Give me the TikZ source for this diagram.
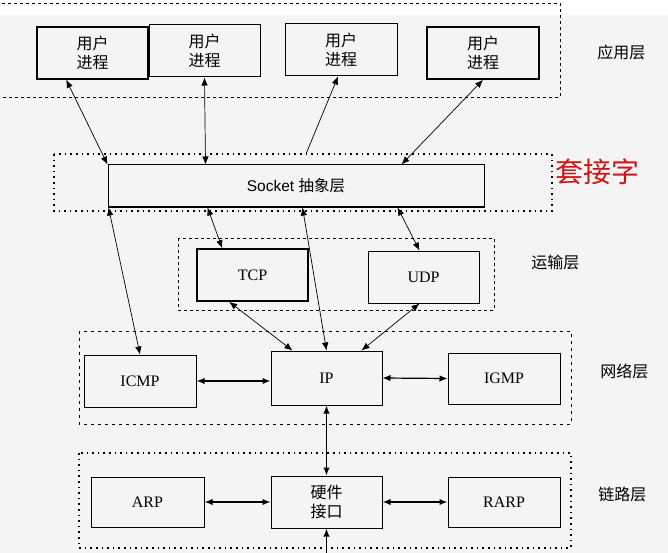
\documentclass[tikz,border=0pt]{standalone}
\usepackage{fontspec}
\setmainfont{Liberation Serif}
\setsansfont{Liberation Sans}
\newfontfamily\song{Noto Sans CJK SC}
\usetikzlibrary{arrows.meta}
\definecolor{paper}{HTML}{F4F4F4}
\definecolor{tagred}{HTML}{CC1414}

\begin{document}
\begin{tikzpicture}[x=1pt,y=-1pt,
  box/.style={draw, line width=1pt, minimum width=111pt, minimum height=52pt,
    inner sep=0pt, align=center, font=\fontsize{16}{19}\selectfont},
  cjkbox/.style={box, font=\song\fontsize{16}{19}\selectfont},
  layer/.style={draw, line width=0.8pt, dash pattern=on 3pt off 3pt},
  dotlayer/.style={draw, line width=1.6pt, dash pattern=on 1.6pt off 4pt},
  tag/.style={anchor=west, inner sep=0pt, font=\song\fontsize{16}{19}\selectfont},
  <->,>={Latex[length=8pt,width=6.5pt]},line width=0.7pt
]
\useasboundingbox (0,0) rectangle (668,553);
\clip (0,0) rectangle (668,553);
\fill[white] (0,0) rectangle (668,553);
\fill[paper] (0,15) rectangle (668,553);

\draw[layer,-] (-5,3) rectangle (560,97);
\draw[dotlayer,-] (54,154) rectangle (552,211);
\draw[layer,-] (178,238) rectangle (494,310);
\draw[layer,-,line width=1pt,dash pattern=on 3pt off 4pt] (79,331) rectangle (571,424);
\draw[dotlayer,-] (79,453) rectangle (571,548);

\node[cjkbox, line width=1.6pt] (u1) at (92.5,53) {用户\\进程};
\node[cjkbox] (u2) at (204.5,51) {用户\\进程};
\node[cjkbox, minimum width=112pt] (u3) at (341,50) {用户\\进程};
\node[cjkbox, line width=1.6pt, minimum width=112pt] (u4) at (483,53) {用户\\进程};
\node[box, minimum width=376pt, minimum height=42pt,
  font=\sffamily\fontsize{15.5}{17}\selectfont] (sock) at (296,186) {Socket {\song 抽象层}};
\node[box, line width=1.6pt] (tcp) at (252.5,275) {TCP};
\node[box] (udp) at (423.5,277) {UDP};
\node[box, minimum width=112pt] (icmp) at (140,381) {ICMP};
\node[box, minimum height=54pt] (ip) at (326.5,378) {IP};
\node[box, minimum width=112pt, minimum height=51pt] (igmp) at (504,378.5) {IGMP};
\node[box, minimum width=113pt, minimum height=50pt] (arp) at (147.5,502) {ARP};
\node[cjkbox] (hw) at (326.5,502) {硬件\\接口};
\node[box, minimum width=112pt, minimum height=50pt] (rarp) at (504,502) {RARP};

\node[tag] (app) at (597,52) {应用层};
\node[tag, text=tagred, font=\song\fontsize{28}{30}\selectfont] (sockname) at (555,172) {套接字};
\node[tag] (trans) at (531,262) {运输层};
\node[tag] (net) at (600,371) {网络层};
\node[tag] (link) at (598,494) {链路层};

\coordinate (u3end) at (306,154);
\coordinate (hwin) at (326.5,553);

\draw ([xshift=30pt]u1.south west) -- (sock.north west);
\draw (u2.south) -- ([xshift=98pt]sock.north west);
\draw[<-] ([xshift=-3pt]u3.south) -- (u3end);
\draw (u4.south) -- ([xshift=294pt]sock.north west);
\draw ([xshift=1pt]sock.south west) -- (icmp.north);
\draw ([xshift=100pt]sock.south west) -- ([xshift=26pt]tcp.north west);
\draw ([xshift=195pt]sock.south west) -- (ip.north);
\draw ([xshift=290pt]sock.south west) -- ([xshift=52pt]udp.north west);
\draw ([xshift=33pt]tcp.south west) -- ([xshift=22pt]ip.north west);
\draw ([xshift=52pt]udp.south west) -- ([xshift=-21pt]ip.north east);
\draw[line width=1.6pt] (icmp.east) -- (icmp.east -| ip.west);
\draw[line width=1.2pt] (ip.east) -- (igmp.west);
\draw[line width=1.6pt] (ip.south) -- (hw.north);
\draw[line width=1.6pt] (arp.east) -- (hw.west);
\draw[line width=1.6pt] (hw.east) -- (rarp.west);
\draw[line width=1.6pt,->] (hwin) -- (hw.south);
\end{tikzpicture}
\end{document}
